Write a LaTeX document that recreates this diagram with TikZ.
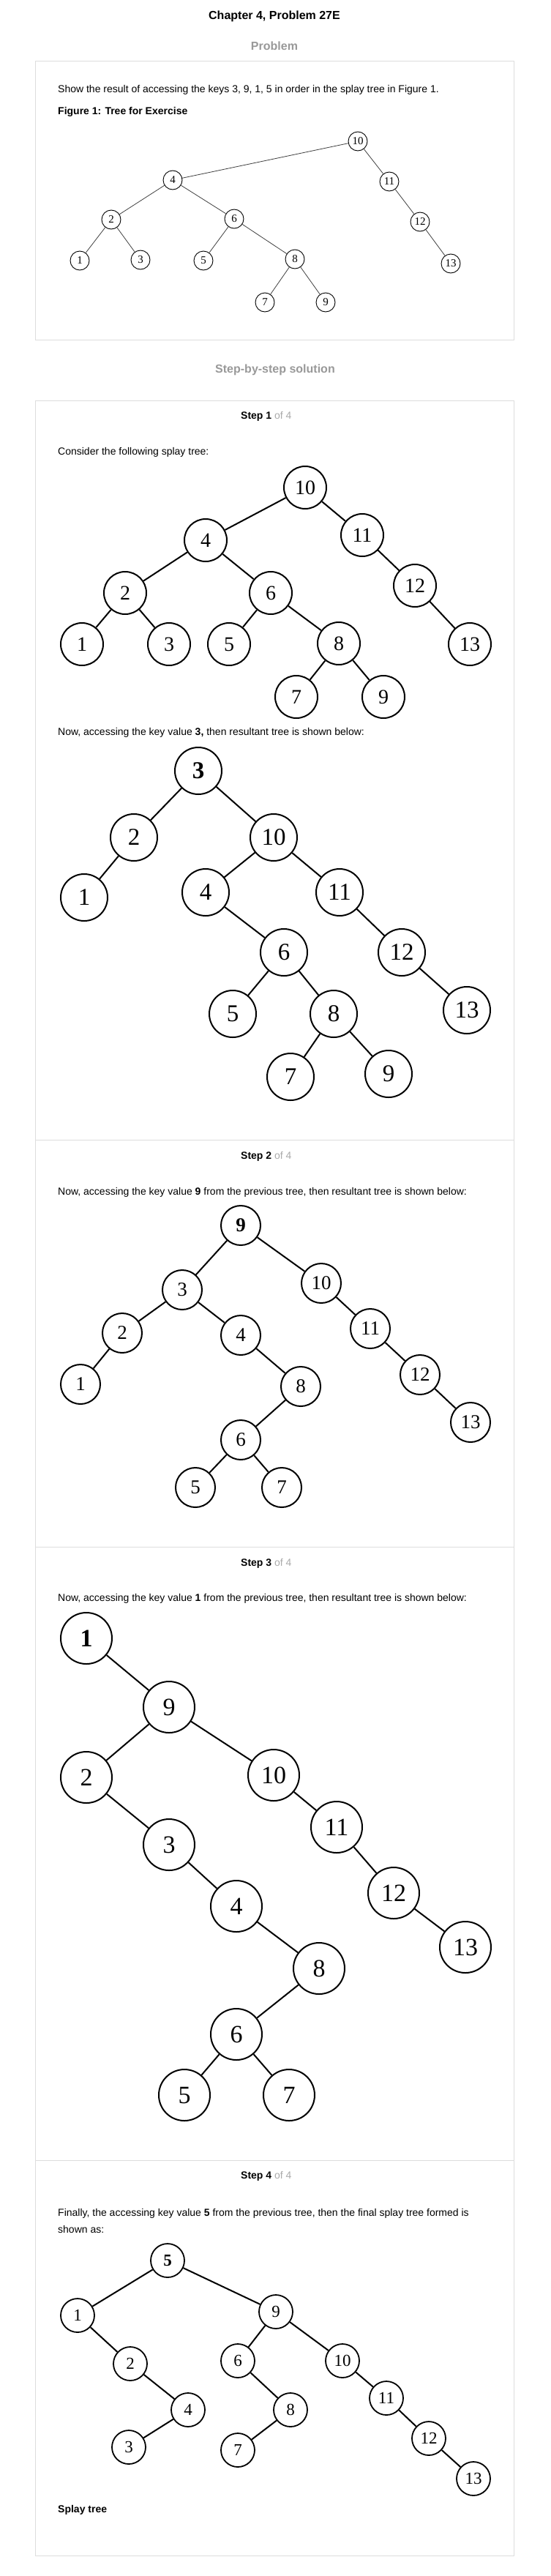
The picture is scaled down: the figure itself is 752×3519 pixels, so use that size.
\documentclass[tikz,border=0pt]{standalone}
\usepackage{fontspec}
\setmainfont{Liberation Sans}
\newfontfamily\numfont{Liberation Serif}
\definecolor{boxgray}{HTML}{DDDDDD}
\definecolor{headgray}{HTML}{999999}
\definecolor{ofgray}{HTML}{AAAAAA}
\begin{document}
\begin{tikzpicture}[x=1pt,y=-1pt,
  txt/.style={anchor=west,inner sep=0pt,font=\fontsize{14}{17}\selectfont},
  head/.style={inner sep=0pt,text=headgray,font=\fontsize{16}{19}\selectfont\bfseries},
  boxline/.style={draw=boxgray,line width=1pt},
  fa/.style={circle,draw,line width=0.9pt,minimum size=26pt,inner sep=0pt,font=\numfont\fontsize{15}{15}\selectfont},
  fb/.style={circle,draw,line width=2pt,minimum size=58pt,inner sep=0pt,font=\numfont\fontsize{28}{28}\selectfont},
  fc/.style={circle,draw,line width=2pt,minimum size=64pt,inner sep=0pt,font=\numfont\fontsize{33}{33}\selectfont},
  fd/.style={circle,draw,line width=2pt,minimum size=54pt,inner sep=0pt,font=\numfont\fontsize{27}{27}\selectfont},
  fe/.style={circle,draw,line width=2pt,minimum size=70pt,inner sep=0pt,font=\numfont\fontsize{34}{34}\selectfont},
  ff/.style={circle,draw,line width=1.8pt,minimum size=46pt,inner sep=0pt,font=\numfont\fontsize{23}{23}\selectfont},
  ea/.style={line width=0.8pt,black!75},
  eb/.style={line width=2pt}]
\useasboundingbox (0,0) rectangle (752,3519);
\fill[white] (0,0) rectangle (752,3519);

% headings
\node[inner sep=0pt,font=\fontsize{16}{19}\selectfont\bfseries] (title) at (375,22) {Chapter 4, Problem 27E};
\node[head] (prob) at (375,63) {Problem};
\draw[boxline] (48.5,84) rectangle (702.5,464);
\node[txt] (q) at (79,123) {Show the result of accessing the keys 3, 9, 1, 5 in order in the splay tree in Figure 1.};
\node[txt,font=\fontsize{14}{17}\selectfont\bfseries] (fig) at (79,153) {Figure 1: Tree for Exercise};

% figure tree
\node[fa] (a10) at (489,193) {10};
\node[fa] (a4) at (236,246) {4};
\node[fa] (a11) at (532,248) {11};
\node[fa] (a2) at (152,300) {2};
\node[fa] (a6) at (320,299) {6};
\node[fa] (a12) at (574,303) {12};
\node[fa] (a1) at (109,356) {1};
\node[fa] (a3) at (192,355) {3};
\node[fa] (a5) at (278,356) {5};
\node[fa] (a8) at (403,354) {8};
\node[fa] (a13) at (616,360) {13};
\node[fa] (a7) at (362,413) {7};
\node[fa] (a9) at (445,413) {9};
\foreach \p/\c in {10/4,10/11,4/2,4/6,2/1,2/3,6/5,6/8,8/7,8/9,11/12,12/13}
  \draw[ea] (a\p) -- (a\c);

\node[head] (sol) at (376,505) {Step-by-step solution};
\draw[boxline] (48.5,547) rectangle (702.5,3491.5);
\draw[boxline] (48.5,1557) -- (702.5,1557);
\draw[boxline] (48.5,2113) -- (702.5,2113);
\draw[boxline] (48.5,2951) -- (702.5,2951);

% step 1
\node[txt] (s1) at (329,569) {\textbf{Step 1} \textcolor{ofgray}{of 4}};
\node[txt] (t1) at (79,618) {Consider the following splay tree:};
\node[fb] (b10) at (417,666) {10};
\node[fb] (b4) at (281,738) {4};
\node[fb] (b11) at (495,731) {11};
\node[fb] (b2) at (171,810) {2};
\node[fb] (b6) at (370,810) {6};
\node[fb] (b12) at (567,800) {12};
\node[fb] (b1) at (112,880) {1};
\node[fb] (b3) at (231,880) {3};
\node[fb] (b5) at (313,880) {5};
\node[fb] (b8) at (463,879) {8};
\node[fb] (b13) at (642,880) {13};
\node[fb] (b7) at (405,952) {7};
\node[fb] (b9) at (524,952) {9};
\foreach \p/\c in {10/4,10/11,4/2,4/6,2/1,2/3,6/5,6/8,8/7,8/9,11/12,12/13}
  \draw[eb] (b\p) -- (b\c);

\node[txt] (t2) at (79,1001) {Now, accessing the key value \textbf{3,} then resultant tree is shown below:};
\node[fc] (c3) at (271,1053) {\bfseries 3};
\node[fc] (c2) at (183,1144) {2};
\node[fc] (c10) at (374,1144) {10};
\node[fc] (c1) at (115,1226) {1};
\node[fc] (c4) at (281,1219) {4};
\node[fc] (c11) at (464,1219) {11};
\node[fc] (c6) at (388,1301) {6};
\node[fc] (c12) at (549,1301) {12};
\node[fc] (c5) at (318,1385) {5};
\node[fc] (c8) at (456,1385) {8};
\node[fc] (c13) at (638,1380) {13};
\node[fc] (c7) at (397,1471) {7};
\node[fc] (c9) at (531,1467) {9};
\foreach \p/\c in {3/2,3/10,2/1,10/4,10/11,4/6,6/5,6/8,8/7,8/9,11/12,12/13}
  \draw[eb] (c\p) -- (c\c);

% step 2
\node[txt] (s2) at (329,1580) {\textbf{Step 2} \textcolor{ofgray}{of 4}};
\node[txt] (t3) at (79,1629) {Now, accessing the key value \textbf{9} from the previous tree, then resultant tree is shown below:};
\node[fd] (d9) at (329,1674) {\bfseries 9};
\node[fd] (d3) at (249,1762) {3};
\node[fd] (d10) at (439,1753) {10};
\node[fd] (d2) at (167,1821) {2};
\node[fd] (d4) at (329,1824) {4};
\node[fd] (d11) at (506,1815) {11};
\node[fd] (d1) at (110,1891) {1};
\node[fd] (d8) at (411,1894) {8};
\node[fd] (d12) at (574,1878) {12};
\node[fd] (d13) at (643,1943) {13};
\node[fd] (d6) at (329,1967) {6};
\node[fd] (d5) at (267,2032) {5};
\node[fd] (d7) at (385,2032) {7};
\foreach \p/\c in {9/3,9/10,3/2,3/4,2/1,4/8,8/6,6/5,6/7,10/11,11/12,12/13}
  \draw[eb] (d\p) -- (d\c);

% step 3
\node[txt] (s3) at (329,2136) {\textbf{Step 3} \textcolor{ofgray}{of 4}};
\node[txt] (t4) at (79,2184) {Now, accessing the key value \textbf{1} from the previous tree, then resultant tree is shown below:};
\node[fe] (e1) at (118,2238) {\bfseries 1};
\node[fe] (e9) at (231,2332) {9};
\node[fe] (e2) at (118,2428) {2};
\node[fe] (e10) at (374,2425) {10};
\node[fe] (e3) at (231,2520) {3};
\node[fe] (e11) at (460,2496) {11};
\node[fe] (e4) at (323,2604) {4};
\node[fe] (e12) at (538,2586) {12};
\node[fe] (e8) at (436,2689) {8};
\node[fe] (e13) at (636,2660) {13};
\node[fe] (e6) at (323,2779) {6};
\node[fe] (e5) at (252,2862) {5};
\node[fe] (e7) at (395,2862) {7};
\foreach \p/\c in {1/9,9/2,9/10,2/3,3/4,4/8,8/6,6/5,6/7,10/11,11/12,12/13}
  \draw[eb] (e\p) -- (e\c);

% step 4
\node[txt] (s4) at (329,2973) {\textbf{Step 4} \textcolor{ofgray}{of 4}};
\node[txt] (t5) at (79,3024) {Finally, the accessing key value \textbf{5} from the previous tree, then the final splay tree formed is};
\node[txt] (t6) at (79,3045) {shown as:};
\node[ff] (f5) at (229,3088) {\bfseries 5};
\node[ff] (f1) at (106,3163) {1};
\node[ff] (f9) at (377,3158) {9};
\node[ff] (f2) at (178,3229) {2};
\node[ff] (f6) at (325,3225) {6};
\node[ff] (f10) at (468,3225) {10};
\node[ff] (f4) at (257,3292) {4};
\node[ff] (f8) at (397,3292) {8};
\node[ff] (f11) at (528,3276) {11};
\node[ff] (f3) at (176,3343) {3};
\node[ff] (f7) at (325,3347) {7};
\node[ff] (f12) at (586,3331) {12};
\node[ff] (f13) at (647,3386) {13};
\foreach \p/\c in {5/1,5/9,1/2,2/4,4/3,9/6,9/10,6/8,8/7,10/11,11/12,12/13}
  \draw[eb] (f\p) -- (f\c);
\node[txt,font=\fontsize{14}{17}\selectfont\bfseries] (sp) at (79,3429) {Splay tree};
\end{tikzpicture}
\end{document}
